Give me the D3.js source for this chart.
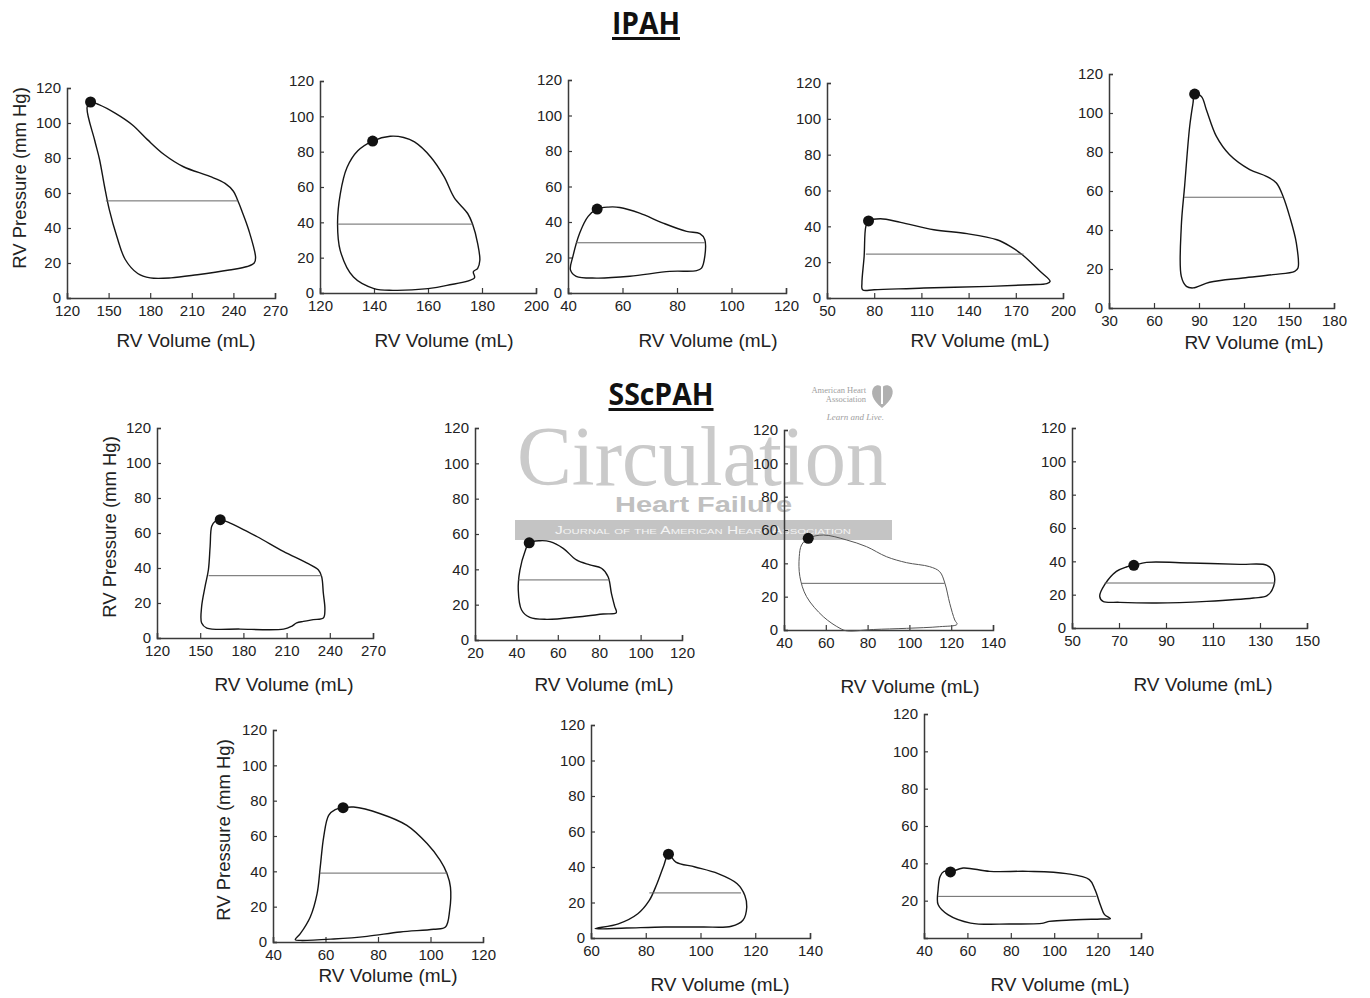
<!DOCTYPE html>
<html>
<head>
<meta charset="utf-8">
<script src="https://cdn.jsdelivr.net/npm/d3@7"></script>
<style>
body{margin:0;background:#fff;}
svg text{font-family:"Liberation Sans",Arial,sans-serif;}
</style>
</head>
<body>
<svg id="chart" width="1370" height="998"></svg>
<script>
// pressure-volume loops, [volume mL, pressure mmHg]
var loop1 = [[137,112],[143,110.5],[155,105.5],[167,99],[178,90.5],[190,82],[204,75],[223,69.5],[234,65.5],[240,61],[243,56],[246,50],[251,39],[256,23],[255,20],[250,18],[237,16],[214,13.3],[195,11.5],[180,11.5],[171,14],[162,22],[156,35],[150.5,50.5],[147,64],[143.5,79],[140,90],[134.5,109]];
var loop2 = [[139.5,86],[146,88.7],[151,88],[155,85.5],[161,77],[166,65.7],[169.7,54],[174.7,45],[176.5,39],[178.4,28],[179.2,18.5],[178.4,14],[176.8,12],[177.2,8.5],[167,4.3],[160,2.5],[147,1.5],[140,2.5],[132.4,9],[127.5,24],[126.5,39],[127.5,56],[130,71],[134,80.5]];
var loop3 = [[50.7,47.3],[54.7,48.4],[59,48.2],[66.3,45],[74.9,39.4],[83.5,34.7],[88.4,33.4],[90.2,30],[90.2,20.6],[89,14],[87.2,12.6],[77.4,12.2],[62.7,9.4],[50.4,8.4],[43,9.4],[40.9,13],[41.8,20.6],[44.3,33.8],[47.4,43.2]];
var loop4 = [[76.4,43],[84,44.2],[96.8,42.2],[117.9,38.1],[139,35.9],[158,32.5],[166.5,28.8],[174.9,23.6],[185.4,14.9],[191.8,9.3],[189.7,8],[179,7.4],[153.8,6.5],[111.6,5.6],[80,4.6],[72.6,4.6],[72.2,8.4],[73.6,23.2],[74.7,40]];
var loop5 = [[87.1,109.7],[91.6,108.5],[94.9,101.7],[101.6,88],[110.4,78.6],[123.8,71],[134.9,67.5],[141.6,64.1],[146,57.3],[150.4,47],[154.9,33.3],[156,20.5],[153.8,18.8],[139.3,17.1],[119.3,15.4],[97.1,13.2],[86,10.3],[81.6,11.1],[78.2,16.2],[78.2,41.9],[80.4,62.4],[83.8,93.2],[86,105]];
var loop6 = [[163.9,67.6],[170.8,65.7],[189.3,58],[207.7,49.5],[223.9,42.9],[232,39],[234.3,35.2],[235.5,25.7],[236.6,16.2],[235.5,11.4],[228.5,10.5],[221.6,9.5],[217,8.6],[213.5,6.7],[207.9,5.1],[177.7,5.1],[154.6,5.7],[151,8.6],[151,18],[153.4,29.5],[155.7,39],[156.9,52.4],[158,63.8],[160.4,66.7]];
var loop7 = [[46.2,55],[51.4,56.2],[56.2,55.7],[62.6,51.9],[69,45.3],[75.5,42.5],[81.1,40.6],[84.3,35.8],[85.9,26.4],[87.5,18.9],[88.3,15.5],[81.9,14.7],[70.6,13.2],[54.6,11.7],[46.5,12.8],[42.5,17],[40.9,28.3],[41.7,39.6],[44.1,50]];
var loop8 = [[51.6,55],[58.8,57],[70,54],[79.5,50],[89,44],[98.6,40.4],[109.7,38],[114.5,35],[117,28],[119.3,16],[121.7,6],[122.8,3.4],[114.5,2],[98.6,1],[82.7,0.3],[70,-0.5],[66.8,1],[58.8,8],[50.8,20],[47.6,32],[47.3,44],[48.4,51]];
var loop9 = [[76.3,37.6],[81.7,39.4],[100.2,39],[121.5,38.2],[133,37.6],[135.8,33],[135.8,25],[133,19.4],[127.2,18],[107.3,16],[86,15],[70.3,15.4],[63.2,16],[61.8,19],[63.9,26],[68.9,34],[73.1,36.6]];
var loop10 = [[66.7,76],[70.7,76.4],[80.9,72.6],[91,66],[98.7,55.7],[103.7,46.2],[106.3,38.7],[107.6,31.1],[107.3,17.9],[105.7,8.5],[101.2,7.2],[88.5,5.7],[75.8,3.2],[63.1,1.7],[50.4,0.9],[48.5,1.3],[50.4,4.7],[54.2,14.2],[56.8,27.4],[58,42.5],[59.3,59.4],[61.2,71.7],[63.7,74.9]];
var loop11 = [[88.3,47.2],[91,42.8],[98,40],[106.4,36.3],[113.4,30.6],[116.2,24],[116.9,17.5],[115.5,10],[111.3,6.6],[100.8,6.2],[86.9,6.2],[72.9,5.6],[61.5,5.2],[70,8],[77.1,13.7],[81.3,21.2],[84.1,30.6],[86.6,40.9]];
var loop12 = [[52.2,35.4],[58,37.5],[70.3,35.7],[88,35.7],[105.6,34.5],[116.2,31.3],[118.8,25.9],[121.5,17],[123.2,12.5],[125.9,10.4],[121.5,10.2],[105.6,9.5],[97.7,8.9],[95,8],[79.2,7.5],[61.5,8],[51,12.5],[46.5,17.9],[46.5,25.9],[47.4,33],[49.2,35.7]];
var loops = [loop1,loop2,loop3,loop4,loop5,loop6,loop7,loop8,loop9,loop10,loop11,loop12];

// end-systolic point per panel
var espPoints = [[137,112],[139.5,86],[50.7,47.3],[76.4,43],[87.1,109.7],[163.9,67.6],[46.2,55],[51.6,55],[76.3,37.6],[66.7,76],[88.3,47.2],[52.2,35.4]];
// mean pressure line: [from volume, to volume, pressure]
var meanLines = [[148,243,55.5],[126.5,176.5,39],[43,90.2,28.3],[74.7,174.9,24.5],[80,146,56.8],[155.8,234.3,35.6],[40.9,85.1,34],[48.4,116.9,28],[63.9,136.5,27],[57.8,106.5,39],[81.3,114.8,25.4],[46.5,119.4,22.3]];

var xDomains = [[120,270],[120,200],[40,120],[50,200],[30,180],[120,270],[20,120],[40,140],[50,150],[40,120],[60,140],[40,140]];
var xTicks = [
  [120,150,180,210,240,270],[120,140,160,180,200],[40,60,80,100,120],[50,80,110,140,170,200],
  [30,60,90,120,150,180],[120,150,180,210,240,270],[20,40,60,80,100,120],[40,60,80,100,120,140],
  [50,70,90,110,130,150],[40,60,80,100,120],[60,80,100,120,140],[40,60,80,100,120,140]];
var yTicksFull = [0,20,40,60,80,100,120];
var yTicksNoZero = [20,40,60,80,100,120];

var xTitle = "RV Volume (mL)";
var yTitle = "RV Pressure (mm Hg)";

// pixel layout of each panel
var layout = [
  {xr:[67,275],  yr:[298,88],  xl:[186,347], yl:[20,178]},
  {xr:[320,536], yr:[293,81],  xl:[444,347]},
  {xr:[568,786], yr:[293,80],  xl:[708,347]},
  {xr:[827,1063],yr:[298,83],  xl:[980,347]},
  {xr:[1109,1334],yr:[308,74], xl:[1254,349]},
  {xr:[157,373], yr:[638,428], xl:[284,691], yl:[110,527]},
  {xr:[475,682], yr:[640,428], xl:[604,691]},
  {xr:[784,993], yr:[630,430], xl:[910,693], light:true},
  {xr:[1072,1307],yr:[628,428],xl:[1203,691]},
  {xr:[273,483], yr:[942,730], xl:[388,982], yl:[224,830]},
  {xr:[591,810], yr:[938,725], xl:[720,991]},
  {xr:[924,1141],yr:[938,714], xl:[1060,991], noZero:true}
];

var svg = d3.select("#chart");

// journal watermark behind the panels
var wm = svg.append("g").attr("class","watermark");
wm.append("text").attr("x",517).attr("y",485)
  .attr("textLength",370).attr("lengthAdjust","spacingAndGlyphs")
  .style("font-family","'Liberation Serif','DejaVu Serif',serif").style("font-size","84px")
  .attr("fill","#cacaca").text("Circulation");
wm.append("text").attr("x",615).attr("y",512)
  .attr("textLength",177).attr("lengthAdjust","spacingAndGlyphs")
  .style("font-size","22px").style("font-weight","bold").attr("fill","#c0c0c0").text("Heart Failure");
wm.append("rect").attr("x",515).attr("y",520).attr("width",377).attr("height",20).attr("fill","#c4c4c4");
wm.append("text").attr("x",555).attr("y",534).attr("textLength",296).attr("lengthAdjust","spacingAndGlyphs")
  .style("font-size","11px").style("font-variant","small-caps").attr("fill","#f4f4f4")
  .text("Journal of the American Heart Association");
wm.append("text").attr("x",866).attr("y",393).attr("text-anchor","end")
  .style("font-family","'Liberation Serif',serif").style("font-size","8.5px").attr("fill","#a0a0a0").text("American Heart");
wm.append("text").attr("x",866).attr("y",402).attr("text-anchor","end")
  .style("font-family","'Liberation Serif',serif").style("font-size","8.5px").attr("fill","#a0a0a0").text("Association");
wm.append("text").attr("x",884).attr("y",420).attr("text-anchor","end")
  .style("font-family","'Liberation Serif',serif").style("font-size","9px").style("font-style","italic")
  .attr("fill","#a0a0a0").text("Learn and Live.");
wm.append("path").attr("d","M882,408 C872,400 870,392 874,387 C877,384 881,385 882,388 C883,385 888,384 891,387 C895,392 892,400 882,408 Z")
  .attr("fill","#b0b0b0");
wm.append("path").attr("d","M881,382 L883,382 L883,404 L881,404 Z M879,379 C880,376 883,376 884,379 Z").attr("fill","#fff");

// section titles
function title(txt, cx, base, len) {
  svg.append("text").attr("x",cx).attr("y",base).attr("text-anchor","middle")
    .attr("textLength",len).attr("lengthAdjust","spacingAndGlyphs")
    .style("font-family","'Open Sans','Noto Sans',sans-serif").style("font-weight","bold")
    .style("font-size","30px").attr("fill","#111").text(txt);
  svg.append("rect").attr("x",cx-len/2).attr("y",base+3).attr("width",len).attr("height",3).attr("fill","#111");
}
title("IPAH", 646, 34, 68);
title("SScPAH", 661, 405, 105);

var curve = d3.curveCatmullRomClosed.alpha(0.5);

layout.forEach(function(p, i) {
  var x = d3.scaleLinear().domain(xDomains[i]).range(p.xr);
  var y = d3.scaleLinear().domain([0,120]).range(p.yr);
  var g = svg.append("g");

  var ax = g.append("g").attr("transform","translate(0," + y(0) + ")")
    .call(d3.axisBottom(x).tickValues(xTicks[i]).tickSizeInner(-5).tickSizeOuter(-5).tickPadding(7));
  var ay = g.append("g").attr("transform","translate(" + x(xDomains[i][0]) + ",0)")
    .call(d3.axisLeft(y).tickValues(p.noZero ? yTicksNoZero : yTicksFull).tickFormat(d3.format("d"))
      .tickSizeInner(-4).tickSizeOuter(-4).tickPadding(6));
  [ax, ay].forEach(function(a) {
    a.attr("font-family", null).attr("font-size", null);
    a.select(".domain").attr("stroke","#3a3a3a").attr("stroke-width",1.5);
    a.selectAll(".tick line").attr("stroke","#3a3a3a").attr("stroke-width",1.2);
    a.selectAll(".tick text").style("font-size","15px").attr("fill","#222");
  });

  // loop
  var line = d3.line().x(function(d){return x(d[0]);}).y(function(d){return y(d[1]);}).curve(curve);
  g.append("path").datum(loops[i]).attr("d",line).attr("fill","none")
    .attr("stroke", p.light ? "#555" : "#151515").attr("stroke-width", p.light ? 1 : 1.4);

  // mean pressure line
  var m = meanLines[i];
  g.append("line").attr("x1",x(m[0])).attr("x2",x(m[1])).attr("y1",y(m[2])).attr("y2",y(m[2]))
    .attr("stroke","#666").attr("stroke-width",1);

  // end-systolic point
  g.append("circle").attr("cx",x(espPoints[i][0])).attr("cy",y(espPoints[i][1])).attr("r",5.5).attr("fill","#111");

  // axis titles
  g.append("text").attr("x",p.xl[0]).attr("y",p.xl[1]).attr("text-anchor","middle")
    .style("font-size","19px").attr("fill","#222").text(xTitle);
  if (p.yl) {
    g.append("text").attr("transform","translate(" + p.yl[0] + "," + p.yl[1] + ") rotate(-90)")
      .attr("text-anchor","middle").attr("dy","0.35em")
      .style("font-size","18.5px").attr("fill","#222").text(yTitle);
  }
});
</script>
</body>
</html>
